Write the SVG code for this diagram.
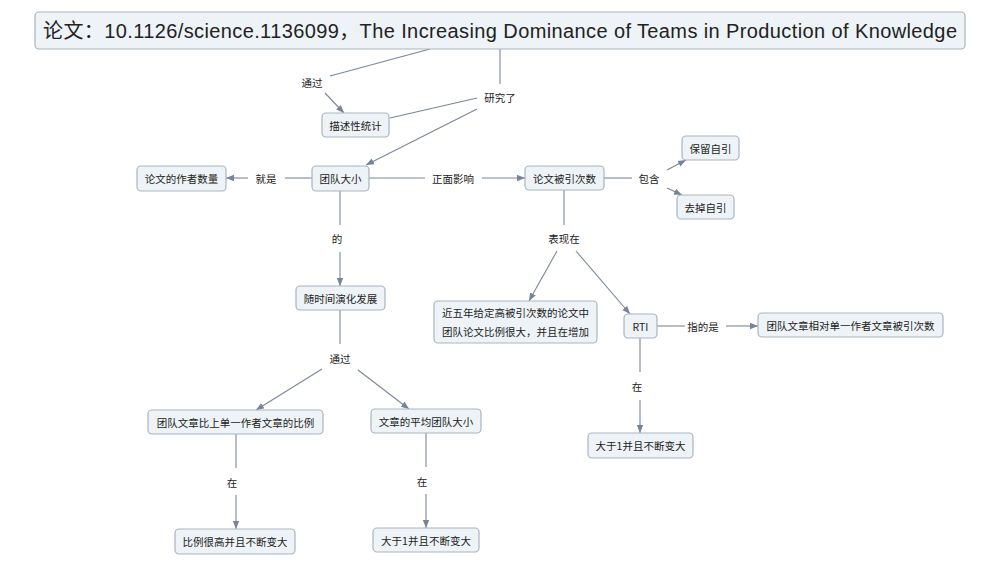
<svg xmlns="http://www.w3.org/2000/svg" width="1000" height="566" viewBox="0 0 1000 566">
<defs>
<marker id="ah" viewBox="0 0 10 10" refX="10" refY="5" markerWidth="8" markerHeight="8" markerUnits="userSpaceOnUse" orient="auto">
<path d="M0,1 L10,5 L0,9 z" fill="#76839a"/>
</marker>
</defs>
<style>
.box{fill:#edf3f6;stroke:#a9b5c0;stroke-width:1.2}
.t{font-family:"Noto Sans CJK SC","Liberation Sans",sans-serif;font-size:10.5px;fill:#222;text-anchor:middle;dominant-baseline:central}
.title{font-family:"Liberation Sans","Noto Sans CJK SC",sans-serif;font-size:20px;fill:#222;text-anchor:middle;dominant-baseline:central}
.c line{stroke:#7a879a;stroke-width:1.1;fill:none}
.c line.a{marker-end:url(#ah)}
</style>
<rect width="1000" height="566" fill="#ffffff"/>
<g class="c" id="connectors">
<line x1="430" y1="49" x2="330" y2="76"/>
<line class="a" x1="325" y1="93" x2="344" y2="113"/>
<line x1="500" y1="49" x2="500" y2="84"/>
<line x1="477" y1="98" x2="390" y2="118"/>
<line class="a" x1="477" y1="109" x2="366" y2="165"/>
<line x1="312" y1="178" x2="285" y2="178"/>
<line class="a" x1="248" y1="178" x2="226" y2="178"/>
<line x1="369" y1="178" x2="425" y2="178"/>
<line class="a" x1="482" y1="178" x2="525" y2="178"/>
<line x1="604" y1="178" x2="632" y2="178"/>
<line class="a" x1="667" y1="170" x2="686" y2="160"/>
<line class="a" x1="667" y1="188" x2="682" y2="195"/>
<line x1="340" y1="191" x2="340" y2="225"/>
<line class="a" x1="340" y1="252" x2="340" y2="286"/>
<line x1="564" y1="190" x2="564" y2="225"/>
<line class="a" x1="557" y1="251" x2="529" y2="301"/>
<line class="a" x1="576" y1="251" x2="630" y2="314"/>
<line x1="657" y1="326" x2="685" y2="326"/>
<line class="a" x1="726" y1="326" x2="758" y2="326"/>
<line x1="640" y1="338" x2="640" y2="372"/>
<line class="a" x1="640" y1="400" x2="640" y2="433"/>
<line x1="340" y1="310" x2="340" y2="344"/>
<line class="a" x1="322" y1="369" x2="256" y2="410"/>
<line class="a" x1="358" y1="370" x2="409" y2="409"/>
<line x1="236" y1="434" x2="236" y2="468"/>
<line class="a" x1="236" y1="495" x2="236" y2="529"/>
<line x1="426" y1="433" x2="426" y2="467"/>
<line class="a" x1="426" y1="494" x2="426" y2="528"/>
</g>
<g id="labels">
<text class="t" x="312" y="82">通过</text>
<text class="t" x="500" y="97">研究了</text>
<text class="t" x="266" y="178">就是</text>
<text class="t" x="453" y="178">正面影响</text>
<text class="t" x="649" y="178">包含</text>
<text class="t" x="337" y="238">的</text>
<text class="t" x="564" y="238">表现在</text>
<text class="t" x="340" y="358">通过</text>
<text class="t" x="703" y="326">指的是</text>
<text class="t" x="637" y="386">在</text>
<text class="t" x="232" y="482">在</text>
<text class="t" x="422" y="481">在</text>
</g>
<g id="n-title"><rect class="box" x="35" y="12" width="930" height="37" rx="4"/><text class="title" x="500" y="31" textLength="914" lengthAdjust="spacing">论文：10.1126/science.1136099，The Increasing Dominance of Teams in Production of Knowledge</text></g>
<g id="n-desc"><rect class="box" x="322" y="113" width="67" height="24" rx="4"/><text class="t" x="355.5" y="125">描述性统计</text></g>
<g id="n-authors"><rect class="box" x="137" y="166" width="89" height="25" rx="4"/><text class="t" x="181.5" y="178.5">论文的作者数量</text></g>
<g id="n-teamsize"><rect class="box" x="312" y="166" width="57" height="25" rx="4"/><text class="t" x="340.5" y="178.5">团队大小</text></g>
<g id="n-cites"><rect class="box" x="525" y="166" width="79" height="24" rx="4"/><text class="t" x="564.5" y="178">论文被引次数</text></g>
<g id="n-keep"><rect class="box" x="682" y="136" width="57" height="24" rx="4"/><text class="t" x="710.5" y="148">保留自引</text></g>
<g id="n-remove"><rect class="box" x="677" y="195" width="57" height="24" rx="4"/><text class="t" x="705.5" y="207">去掉自引</text></g>
<g id="n-evolve"><rect class="box" x="296" y="286" width="89" height="24" rx="4"/><text class="t" x="340.5" y="298">随时间演化发展</text></g>
<g id="n-recent"><rect class="box" x="434" y="301" width="163" height="42" rx="4"/><text class="t" x="515.5" y="312.5">近五年给定高被引次数的论文中</text><text class="t" x="515.5" y="331">团队论文比例很大，并且在增加</text></g>
<g id="n-rti"><rect class="box" x="624" y="314" width="33" height="24" rx="4"/><text class="t" x="640.5" y="326">RTI</text></g>
<g id="n-rtidef"><rect class="box" x="758" y="313" width="185" height="24" rx="4"/><text class="t" x="850.5" y="325">团队文章相对单一作者文章被引次数</text></g>
<g id="n-ratio"><rect class="box" x="148" y="410" width="175" height="24" rx="4"/><text class="t" x="235.5" y="422">团队文章比上单一作者文章的比例</text></g>
<g id="n-avg"><rect class="box" x="371" y="409" width="110" height="24" rx="4"/><text class="t" x="426" y="421">文章的平均团队大小</text></g>
<g id="n-ratiohigh"><rect class="box" x="175" y="529" width="120" height="25" rx="4"/><text class="t" x="235" y="541.5">比例很高并且不断变大</text></g>
<g id="n-avggt1"><rect class="box" x="373" y="528" width="106" height="24" rx="4"/><text class="t" x="426" y="540">大于1并且不断变大</text></g>
<g id="n-rtigt1"><rect class="box" x="588" y="433" width="105" height="25" rx="4"/><text class="t" x="640.5" y="445.5">大于1并且不断变大</text></g>
</svg>
